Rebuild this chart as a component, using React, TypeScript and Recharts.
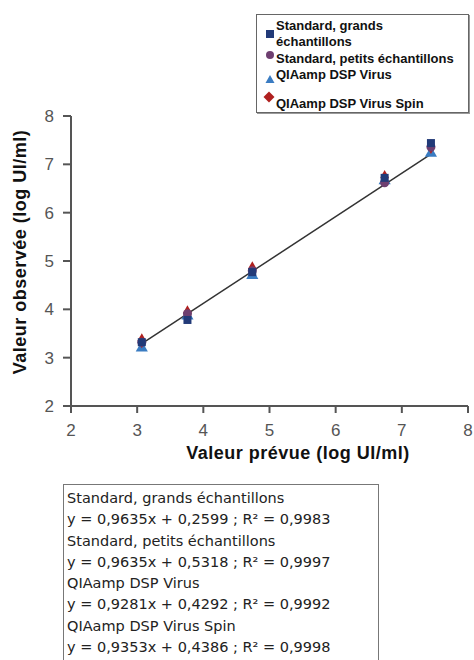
import { Label, Scatter, ScatterChart, XAxis, YAxis, ZAxis } from 'recharts';

// Expected (log UI/ml) per dilution level
const expected = [3.07, 3.76, 4.74, 6.74, 7.44];

// Observed values per sample type
const grands = [3.32, 3.78, 4.77, 6.72, 7.44];
const petits = [3.32, 3.91, 4.8, 6.62, 7.36];
const dspVirus = [3.2, 3.86, 4.7, 6.66, 7.23];
const dspSpin = [3.35, 3.93, 4.84, 6.73, 7.37];

// Trend line end points
const trendX = [3.07, 7.44];
const trendY = [3.29, 7.21];

const ticks = [2, 3, 4, 5, 6, 7, 8];

const seriesNames = [
  'Standard, grands échantillons',
  'Standard, petits échantillons',
  'QIAamp DSP Virus',
  'QIAamp DSP Virus Spin',
];

const equations = [
  'y = 0,9635x + 0,2599 ; R² = 0,9983',
  'y = 0,9635x + 0,5318 ; R² = 0,9997',
  'y = 0,9281x + 0,4292 ; R² = 0,9992',
  'y = 0,9353x + 0,4386 ; R² = 0,9998',
];

const toPoints = (ys: number[]) => ys.map((y, i) => ({ x: expected[i], y }));
const trend = trendX.map((x, i) => ({ x, y: trendY[i] }));

const FONT = '"Liberation Sans", Arial, sans-serif';
const tickStyle = { fontSize: 17, fill: '#555', fontFamily: FONT };
const titleStyle = { fontSize: 18, fontWeight: 700, fill: '#111', fontFamily: FONT, letterSpacing: 0.5 };

const markers = [
  <svg width="10" height="10" key="sq"><rect x="1" y="1" width="8" height="8" fill="#223a78" /></svg>,
  <svg width="10" height="10" key="ci"><circle cx="5" cy="5" r="4" fill="#6e3f70" /></svg>,
  <svg width="10" height="10" key="tr"><polygon points="5,1 9.5,9 0.5,9" fill="#3a7cc2" /></svg>,
  <svg width="12" height="12" key="di"><polygon points="6,0.5 11.5,6 6,11.5 0.5,6" fill="#b0201f" /></svg>,
];

export default function App() {
  return (
    <div style={{ position: 'absolute', left: 0, top: 0, width: 474, height: 660, background: '#fff', fontFamily: FONT }}>
      <ScatterChart width={474} height={660} margin={{ top: 116, right: 6, bottom: 194, left: 0 }}>
        <XAxis
          type="number"
          dataKey="x"
          domain={[2, 8]}
          ticks={ticks}
          tick={tickStyle}
          tickSize={7}
          tickMargin={11}
          stroke="#555"
          strokeWidth={2}
          height={60}
        >
          <Label
            content={() => (
              <text x={298} y={459} textAnchor="middle" style={titleStyle}>
                Valeur prévue (log UI/ml)
              </text>
            )}
          />
        </XAxis>
        <YAxis
          type="number"
          dataKey="y"
          domain={[2, 8]}
          ticks={ticks}
          tick={tickStyle}
          tickSize={8}
          tickMargin={9}
          stroke="#555"
          strokeWidth={2}
          width={71}
        >
          <Label
            content={() => (
              <text x={26} y={252} textAnchor="middle" transform="rotate(-90 26 252)" style={titleStyle}>
                Valeur observée (log UI/ml)
              </text>
            )}
          />
        </YAxis>
        <ZAxis range={[72, 72]} />
        <Scatter data={trend} line={{ stroke: '#333', strokeWidth: 1.5 }} shape={() => null} isAnimationActive={false} />
        <Scatter data={toPoints(dspVirus)} shape="triangle" fill="#3a7cc2" isAnimationActive={false} />
        <Scatter data={toPoints(dspSpin)} shape="diamond" fill="#b0201f" isAnimationActive={false} />
        <Scatter data={toPoints(petits)} shape="circle" fill="#6e3f70" isAnimationActive={false} />
        <Scatter data={toPoints(grands)} shape="square" fill="#223a78" isAnimationActive={false} />
      </ScatterChart>

      {/* legend box */}
      <div
        style={{
          position: 'absolute',
          left: 256,
          top: 14,
          width: 211,
          height: 97,
          border: '1px solid #666',
          boxShadow: '1px 1px 0 #999',
          overflow: 'hidden',
          fontSize: 13,
          fontWeight: 700,
          color: '#111',
          lineHeight: '16px',
        }}
      >
        <div style={{ position: 'absolute', left: 8, top: 12 }}>{markers[0]}</div>
        <div style={{ position: 'absolute', left: 19, top: 3, width: 120 }}>Standard, grands<br />échantillons</div>
        <div style={{ position: 'absolute', left: 8, top: 33 }}>{markers[1]}</div>
        <div style={{ position: 'absolute', left: 19, top: 36 }}>{seriesNames[1]}</div>
        <div style={{ position: 'absolute', left: 8, top: 57 }}>{markers[2]}</div>
        <div style={{ position: 'absolute', left: 19, top: 52 }}>{seriesNames[2]}</div>
        <div style={{ position: 'absolute', left: 6, top: 76 }}>{markers[3]}</div>
        <div style={{ position: 'absolute', left: 19, top: 81 }}>{seriesNames[3]}</div>
      </div>

      {/* equations box */}
      <div
        style={{
          position: 'absolute',
          left: 63,
          top: 484,
          width: 316,
          height: 176,
          border: '1px solid #777',
          borderBottom: 'none',
          fontFamily: '"DejaVu Sans", sans-serif',
          fontSize: 14.5,
          color: '#222',
          lineHeight: '21.3px',
          padding: '3px 0 0 3px',
          boxSizing: 'border-box',
        }}
      >
        {seriesNames.map((n, i) => (
          <div key={n}>
            <div>{n}</div>
            <div>{equations[i]}</div>
          </div>
        ))}
      </div>
    </div>
  );
}
